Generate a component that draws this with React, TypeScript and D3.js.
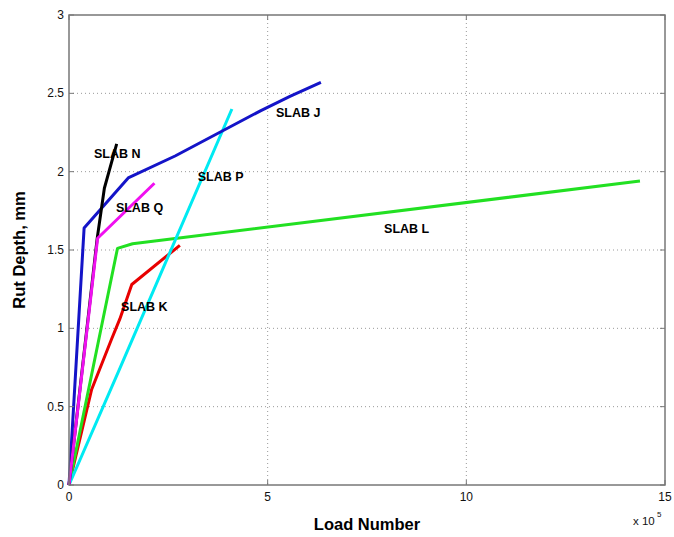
import React from "react";
import * as d3 from "d3";

// Load number in units of 1e5, rut depth in mm
const slabJ: [number, number][] = [[0, 0], [0.38, 1.64], [1.49, 1.96], [2.67, 2.1], [4.83, 2.39], [5.56, 2.48], [6.34, 2.57]];
const slabK: [number, number][] = [[0, 0], [0.57, 0.61], [1.07, 0.93], [1.28, 1.06], [1.58, 1.28], [2.79, 1.53]];
const slabL: [number, number][] = [[0, 0], [1.22, 1.51], [1.6, 1.54], [14.37, 1.94]];
const slabN: [number, number][] = [[0, 0], [0.71, 1.575], [0.89, 1.894], [1.2, 2.177]];
const slabP: [number, number][] = [[0, 0], [1.28, 0.745], [4.1, 2.4]];
const slabQ: [number, number][] = [[0, 0], [0.72, 1.575], [2.15, 1.926]];

const seriesNames = ["SLAB K", "SLAB L", "SLAB P", "SLAB J", "SLAB N", "SLAB Q"];
const seriesData = [slabK, slabL, slabP, slabJ, slabN, slabQ];
const seriesColors = ["#e80000", "#22e022", "#00eaf2", "#1414c8", "#000000", "#f010f0"];

// label anchor positions in data coords (left x, center y)
const labelNames = ["SLAB J", "SLAB P", "SLAB N", "SLAB Q", "SLAB K", "SLAB L"];
const labelPos: [number, number][] = [[5.21, 2.38], [3.24, 1.968], [0.63, 2.113], [1.18, 1.77], [1.31, 1.138], [7.93, 1.64]];

const xTicks = [0, 5, 10, 15];
const yTicks = [0, 0.5, 1, 1.5, 2, 2.5, 3];

export default function App() {
  const W = 674, H = 537;
  const L = 69, R = 665, T = 15, B = 485;
  const x = d3.scaleLinear().domain([0, 15]).range([L, R]);
  const y = d3.scaleLinear().domain([0, 3]).range([B, T]);
  const line = d3.line<[number, number]>().x(d => x(d[0])).y(d => y(d[1]));
  const font = "Liberation Sans, Arial, Helvetica, sans-serif";
  return (
    <svg width={W} height={H} style={{ position: "absolute", left: 0, top: 0, background: "#fff" }} fontFamily={font}>
      <rect x={0} y={0} width={W} height={H} fill="#fff" />
      {/* grid */}
      {xTicks.filter(t => t > 0 && t < 15).map(t => (
        <line key={"gx" + t} x1={x(t)} x2={x(t)} y1={T} y2={B} stroke="#999" strokeWidth={1} strokeDasharray="1,3" />
      ))}
      {yTicks.filter(t => t > 0 && t < 3).map(t => (
        <line key={"gy" + t} x1={L} x2={R} y1={y(t)} y2={y(t)} stroke="#999" strokeWidth={1} strokeDasharray="1,3" />
      ))}
      {/* lines */}
      {seriesData.map((d, i) => (
        <path key={seriesNames[i]} d={line(d) || ""} fill="none" stroke={seriesColors[i]} strokeWidth={3} strokeLinejoin="round" strokeLinecap="butt" />
      ))}
      {/* box */}
      <rect x={L} y={T} width={R - L} height={B - T} fill="none" stroke="#777" strokeWidth={1.5} />
      {/* ticks */}
      {xTicks.map(t => (
        <g key={"xt" + t}>
          <line x1={x(t)} x2={x(t)} y1={B} y2={B - 5} stroke="#777" />
          <line x1={x(t)} x2={x(t)} y1={T} y2={T + 5} stroke="#777" />
          <text x={x(t)} y={501} fontSize={12} textAnchor="middle" fill="#111">{t}</text>
        </g>
      ))}
      {yTicks.map(t => (
        <g key={"yt" + t}>
          <line x1={L} x2={L + 5} y1={y(t)} y2={y(t)} stroke="#777" />
          <line x1={R} x2={R - 5} y1={y(t)} y2={y(t)} stroke="#777" />
          <text x={L - 5} y={y(t) + 4} fontSize={12} textAnchor="end" fill="#111">{t}</text>
        </g>
      ))}
      {/* labels */}
      {labelNames.map((n, i) => (
        <text key={n} x={x(labelPos[i][0])} y={y(labelPos[i][1]) + 4.5} fontSize={12.5} fontWeight="bold" fill="#000">{n}</text>
      ))}
      <text x={(L + R) / 2} y={530} fontSize={16.5} fontWeight="bold" textAnchor="middle" fill="#000">Load Number</text>
      <text transform={`translate(25, ${(T + B) / 2}) rotate(-90)`} fontSize={16.5} fontWeight="bold" textAnchor="middle" fill="#000">Rut Depth, mm</text>
      <text x={633} y={525} fontSize={11.5} fill="#111">x 10</text>
      <text x={657} y={517} fontSize={8} fill="#111">5</text>
    </svg>
  );
}
